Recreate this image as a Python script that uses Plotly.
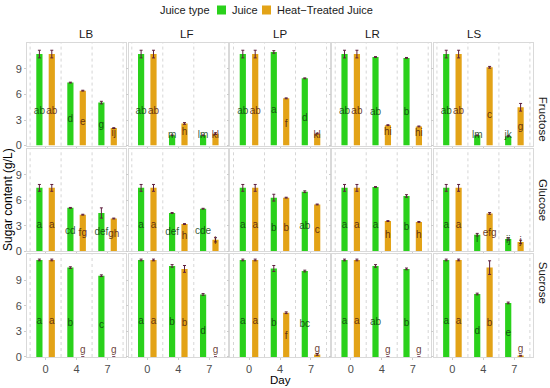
import plotly.graph_objects as go
from plotly.subplots import make_subplots

strains = ["LB", "LF", "LP", "LR", "LS"]
sugars = ["Fructose", "Glucose", "Sucrose"]
days = ["0", "4", "7"]
juice_types = ["Juice", "Heat\u2212Treated Juice"]

# mean values per strain, per day (0, 4, 7)
fructose_juice = [[10.75, 7.4, 5.05], [10.75, 1.2, 1.2], [10.75, 11.0, 7.9], [10.75, 10.4, 10.3], [10.75, 1.2, 1.1]]
fructose_heat = [[10.75, 6.45, 2.05], [10.75, 2.6, 1.4], [10.75, 5.55, 1.4], [10.75, 2.4, 2.25], [10.75, 9.2, 4.5]]
glucose_juice = [[7.45, 5.1, 4.5], [7.45, 4.5, 5.0], [7.45, 6.3, 7.0], [7.45, 7.55, 6.5], [7.45, 1.95, 1.45]]
glucose_heat = [[7.45, 4.3, 3.85], [7.45, 3.2, 1.35], [7.45, 6.3, 5.5], [7.45, 3.55, 3.45], [7.45, 4.45, 1.1]]
sucrose_juice = [[11.4, 10.5, 9.55], [11.4, 10.7, 7.35], [11.4, 10.4, 10.1], [11.4, 10.7, 10.35], [11.4, 7.4, 6.35]]
sucrose_heat = [[11.4, 0.0, 0.0], [11.4, 10.35, 0.0], [11.4, 5.2, 0.3], [11.4, 0.0, 0.0], [11.4, 10.5, 0.15]]

# standard errors
fructose_juice_se = [[0.45, 0.05, 0.15], [0.45, 0.05, 0.05], [0.45, 0.15, 0.05], [0.45, 0.05, 0.05], [0.45, 0.05, 0.05]]
fructose_heat_se = [[0.45, 0.05, 0.05], [0.45, 0.1, 0.1], [0.45, 0.05, 0.05], [0.45, 0.05, 0.05], [0.45, 0.1, 0.45]]
glucose_juice_se = [[0.4, 0.05, 0.6], [0.4, 0.05, 0.05], [0.4, 0.4, 0.1], [0.4, 0.05, 0.15], [0.4, 0.15, 0.15]]
glucose_heat_se = [[0.4, 0.05, 0.05], [0.4, 0.05, 0.25], [0.4, 0.05, 0.05], [0.4, 0.05, 0.05], [0.4, 0.1, 0.2]]
sucrose_juice_se = [[0.1, 0.1, 0.1], [0.1, 0.15, 0.1], [0.1, 0.35, 0.1], [0.1, 0.15, 0.1], [0.1, 0.1, 0.1]]
sucrose_heat_se = [[0.1, 0.0, 0.0], [0.1, 0.4, 0.0], [0.1, 0.1, 0.1], [0.1, 0.0, 0.0], [0.1, 0.8, 0.05]]

# significance letters
fructose_juice_lab = [["ab", "d", "g"], ["ab", "m", "lm"], ["ab", "a", "d"], ["ab", "ab", "b"], ["ab", "lm", "jk"]]
fructose_heat_lab = [["ab", "e", "ij"], ["ab", "h", "kl"], ["ab", "f", "kl"], ["ab", "hi", "hi"], ["ab", "c", "g"]]
glucose_juice_lab = [["a", "cd", "def"], ["a", "def", "cde"], ["a", "b", "ab"], ["a", "a", "b"], ["a", "i", "ij"]]
glucose_heat_lab = [["a", "fg", "gh"], ["a", "h", "i"], ["a", "b", "c"], ["a", "h", "h"], ["a", "efg", "j"]]
sucrose_juice_lab = [["a", "b", "c"], ["a", "b", "d"], ["a", "b", "bc"], ["a", "ab", "b"], ["a", "d", "e"]]
sucrose_heat_lab = [["a", "g", "g"], ["a", "b", "g"], ["a", "f", "g"], ["a", "g", "g"], ["a", "b", "g"]]

data = {
    "Fructose": [(fructose_juice, fructose_juice_se, fructose_juice_lab), (fructose_heat, fructose_heat_se, fructose_heat_lab)],
    "Glucose": [(glucose_juice, glucose_juice_se, glucose_juice_lab), (glucose_heat, glucose_heat_se, glucose_heat_lab)],
    "Sucrose": [(sucrose_juice, sucrose_juice_se, sucrose_juice_lab), (sucrose_heat, sucrose_heat_se, sucrose_heat_lab)],
}

colors = ["#2ad11b", "#e3a317"]
label_colors = ["rgba(15,60,15,0.85)", "rgba(80,25,15,0.85)"]
err_color = "#5e1f3e"
offsets = [-0.2, 0.2]
FONT = "Liberation Sans, Arial, sans-serif"

fig = make_subplots(rows=3, cols=5, horizontal_spacing=0.005, vertical_spacing=0.01)

idx = list(range(len(days)))
for r, sugar in enumerate(sugars):
    for c, strain in enumerate(strains):
        for t, (vals, ses, labs) in enumerate(data[sugar]):
            v = vals[c]
            xs = [i + offsets[t] for i in idx]
            fig.add_trace(go.Bar(
                x=xs, y=v, width=0.2, name=juice_types[t],
                marker=dict(color=colors[t], line=dict(width=0)),
                error_y=dict(type="data", array=ses[c], color=err_color, thickness=1, width=1.5),
                showlegend=False, hoverinfo="skip"), row=r + 1, col=c + 1)
            fig.add_trace(go.Scatter(
                x=xs, y=[0.3 * val + 0.8 for val in v], mode="text", text=labs[c],
                textfont=dict(size=10, color=label_colors[t], family=FONT),
                showlegend=False, hoverinfo="skip", cliponaxis=False), row=r + 1, col=c + 1)
        n = r * 5 + c + 1
        xref = "x" if n == 1 else f"x{n}"
        yref = "y domain" if n == 1 else f"y{n} domain"
        for k in range(len(days) + 1):
            fig.add_shape(type="line", xref=xref, yref=yref, x0=k - 0.5, x1=k - 0.5, y0=0, y1=1,
                          line=dict(color="#c4c4c4", width=0.7, dash="3px,3px"), layer="below")

fig.update_xaxes(range=[-0.6, 2.6], tickvals=idx, ticktext=days, showgrid=False, zeroline=False,
                 showline=True, mirror=True, linecolor="#d9d9d9", linewidth=1, automargin=False,
                 ticks="outside", ticklen=2, tickcolor="#cccccc",
                 tickfont=dict(size=11, color="#4d4d4d", family=FONT))
fig.update_yaxes(range=[0, 12.05], tickvals=[0, 3, 6, 9], showgrid=False, zeroline=False,
                 showline=True, mirror=True, linecolor="#d9d9d9", linewidth=1, automargin=False,
                 ticks="outside", ticklen=2, tickcolor="#cccccc",
                 tickfont=dict(size=11, color="#4d4d4d", family=FONT))
for r in range(1, 4):
    for c in range(1, 6):
        if r != 3:
            fig.update_xaxes(showticklabels=False, row=r, col=c)
        if c != 1:
            fig.update_yaxes(showticklabels=False, row=r, col=c)

W, H = 550, 388
ml, mr, mt, mb = 27, 17, 43, 31
pw, ph = W - ml - mr, H - mt - mb


def px(xp):
    return (xp - ml) / pw


def py(yp):
    return 1 + (mt - yp) / ph


annotations = []
for c, strain in enumerate(strains):
    xa = fig.layout["xaxis" if c == 0 else f"xaxis{c + 1}"]
    xc = (xa.domain[0] + xa.domain[1]) / 2
    annotations.append(dict(text=strain, x=xc, y=py(34), xref="paper", yref="paper",
                            showarrow=False, yanchor="middle", font=dict(size=11.5, color="#1a1a1a", family=FONT)))
for r, sugar in enumerate(sugars):
    ya = fig.layout["yaxis" if r == 0 else f"yaxis{r * 5 + 1}"]
    yc = (ya.domain[0] + ya.domain[1]) / 2
    annotations.append(dict(text=sugar, x=px(543), y=yc, xref="paper", yref="paper",
                            showarrow=False, textangle=90, xanchor="center",
                            font=dict(size=11.5, color="#1a1a1a", family=FONT)))
annotations.append(dict(text="Day", x=0.5, y=py(380), xref="paper", yref="paper", showarrow=False,
                        yanchor="middle", font=dict(size=11.5, color="#000000", family=FONT)))
annotations.append(dict(text="Sugar content (g/L)", x=px(8), y=0.5, xref="paper", yref="paper",
                        showarrow=False, textangle=-90, xanchor="center",
                        font=dict(size=12, color="#000000", family=FONT)))

# legend drawn manually (compact ggplot-style)
legend_font = dict(size=11, color="#1a1a1a", family=FONT)
annotations.append(dict(text="Juice type", x=px(212), y=py(10), xref="paper", yref="paper",
                        showarrow=False, xanchor="right", yanchor="middle", font=legend_font))
key_x = [217, 262]
shapes = list(fig.layout.shapes)
for t, name in enumerate(juice_types):
    shapes.append(dict(type="rect", xref="paper", yref="paper", x0=px(key_x[t]), x1=px(key_x[t] + 9),
                       y0=py(14.5), y1=py(5.5), fillcolor=colors[t], line=dict(width=0)))
    annotations.append(dict(text=name, x=px(key_x[t] + 13), y=py(10), xref="paper", yref="paper",
                            showarrow=False, xanchor="left", yanchor="middle", font=legend_font))

fig.update_layout(
    width=W, height=H, margin=dict(l=ml, r=mr, t=mt, b=mb, autoexpand=False),
    paper_bgcolor="white", plot_bgcolor="white", barmode="overlay",
    annotations=annotations, shapes=shapes, showlegend=False,
    font=dict(family=FONT),
)

fig.write_html("out.html", config={"displayModeBar": False},
               post_script="document.body.style.margin='0px';document.body.style.overflow='hidden';")
